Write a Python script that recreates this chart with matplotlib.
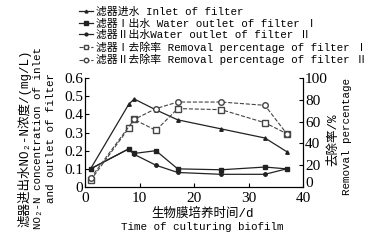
import matplotlib.pyplot as plt

# culture time (d)
days = [1, 8, 9, 13, 17, 25, 33, 37]
inlet = [0.10, 0.455, 0.485, 0.425, 0.37, 0.32, 0.27, 0.195]
out_1 = [0.10, 0.21, 0.185, 0.20, 0.10, 0.095, 0.11, 0.10]
out_2 = [0.10, 0.21, 0.18, 0.12, 0.08, 0.07, 0.07, 0.10]
rem_1 = [6, 54, 62, 52, 72, 71, 59, 49]
days_r2 = [1, 9, 13, 17, 25, 33, 37]
rem_2 = [8, 62, 72, 78, 78, 75, 49]

cn = ['Liberation Mono', 'Noto Sans CJK SC', 'DejaVu Sans']
num = 'Liberation Serif'

fig = plt.figure(figsize=(3.7, 2.41), dpi=100)
ax = fig.add_axes([0.23, 0.224, 0.589, 0.452])
ax2 = ax.twinx()

lk = dict(color='#222222', lw=0.9)
h1, = ax.plot(days, inlet, marker='^', ms=2.5, **lk)
h2, = ax.plot(days, out_1, marker='s', ms=3.5, **lk)
h3, = ax.plot(days, out_2, marker='o', ms=2.5, **lk)
h4, = ax2.plot(days, rem_1, marker='s', ms=4, mfc='white', ls='--', color='#444444', lw=0.8)
h5, = ax2.plot(days_r2, rem_2, marker='o', ms=4, mfc='white', ls='--', color='#444444', lw=0.8)

ax.set_xlim(0, 40)
ax.set_ylim(0, 0.6)
ax2.set_ylim(0, 100)
ax.set_xticks([0, 10, 20, 30, 40])
ax.set_yticks([0, 0.1, 0.2, 0.3, 0.4, 0.5, 0.6])
ax.set_yticklabels(['0', '0.1', '0.2', '0.3', '0.4', '0.5', '0.6'])
ax2.set_yticks([0, 20, 40, 60, 80, 100])
ax2.set_yticklabels(['0', '20', '40', '60', '80', '100'])
for a in (ax, ax2):
    a.spines['top'].set_visible(False)
    a.tick_params(direction='in', length=3, width=0.8, labelsize=11, pad=1.5)
    for t in a.get_xticklabels() + a.get_yticklabels():
        t.set_fontfamily(num)
ax.tick_params(axis='x', pad=3.5)
# right-hand zero sits a little above the corner, as in the original
ax2.get_yticklabels()[0].set_va('baseline')

fig.legend([h1, h2, h3, h4, h5],
           ['滤器进水 Inlet of filter',
            '滤器Ⅰ出水 Water outlet of filter Ⅰ',
            '滤器Ⅱ出水Water outlet of filter Ⅱ',
            '滤器Ⅰ去除率 Removal percentage of filter Ⅰ',
            '滤器Ⅱ去除率 Removal percentage of filter Ⅱ'],
           loc='upper left', bbox_to_anchor=(0.195, 1.0), frameon=False,
           prop={'family': cn, 'size': 7.8}, handlelength=1.3, handletextpad=0.3,
           labelspacing=0.12, borderpad=0.1, markerscale=0.8)

fig.text(0.066, 0.427, '滤器进出水NO₂-N浓度/(mg/L)', rotation=90,
         ha='center', va='center', family=cn, size=9)
fig.text(0.102, 0.427, 'NO₂-N concentration of inlet', rotation=90,
         ha='center', va='center', family=cn, size=7.8)
fig.text(0.138, 0.427, 'and outlet of filter', rotation=90,
         ha='center', va='center', family=cn, size=7.8)
fig.text(0.9, 0.42, '去除率/%', rotation=90,
         ha='center', va='center', family=cn, size=9)
fig.text(0.938, 0.435, 'Removal percentage', rotation=90,
         ha='center', va='center', family=cn, size=7.8)
fig.text(0.548, 0.115, '生物膜培养时间/d', ha='center', va='center', family=cn, size=9)
fig.text(0.546, 0.058, 'Time of culturing biofilm', ha='center', va='center', family=cn, size=7.8)

fig.savefig('out.png', dpi=100)
